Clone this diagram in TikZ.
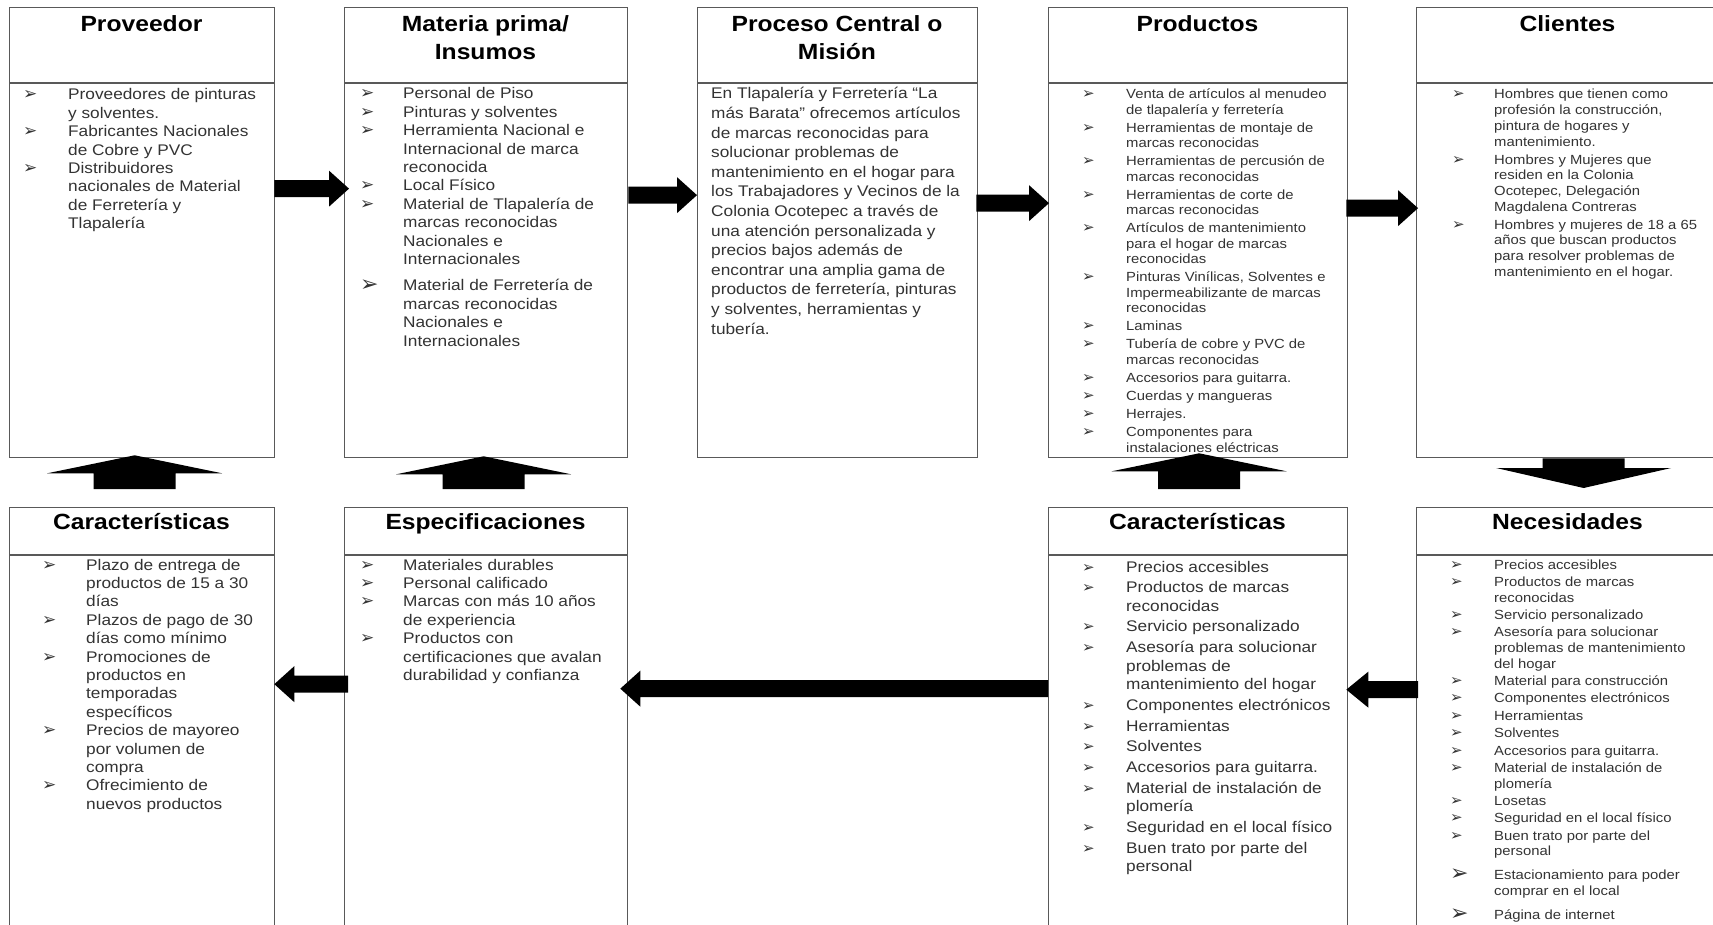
\documentclass[tikz,border=0pt]{standalone}
\usepackage{fontspec}
\usetikzlibrary{calc}
\newfontfamily\bodyfont[FakeStretch=1.12]{Liberation Sans}
\newfontfamily\bulfont{DejaVu Sans}
\newcommand\bul{\raisebox{0pt}[0pt][0pt]{\bulfont\fontsize{17}{17}\selectfont ➢}}
\newcommand\sbul{\raisebox{0pt}[0pt][0pt]{\bulfont\fontsize{15}{15}\selectfont ➢}}
\newcommand\bbul{\raisebox{-1pt}[0pt][0pt]{\bulfont\fontsize{22}{22}\selectfont ➢}}
% block arrow: start, end, half body, half head, head length
\newcommand\barrow[5]{%
  \coordinate (hb) at ($(#2)!#5!(#1)$);
  \fill[black] ($(#1)!#3!90:(#2)$) -- ($(hb)!#3!90:(#2)$) -- ($(hb)!#4!90:(#2)$) -- (#2)
    -- ($(hb)!#4!-90:(#2)$) -- ($(hb)!#3!-90:(#2)$) -- ($(#1)!#3!-90:(#2)$) -- cycle;}
\begin{document}
\begin{tikzpicture}[x=1pt,y=-1pt,
  box/.style={draw=black!65, line width=1.3pt, inner sep=0pt, anchor=north west},
  divider/.style={draw=black!65, line width=1.3pt},
  title/.style={anchor=base, inner sep=0pt, text=black,
    font={\bodyfont\bfseries\fontsize{22}{28}\selectfont}},
  txt/.style={anchor=base west, inner sep=0pt, text=black!80},
  lg/.style={font={\bodyfont\fontsize{15.4}{18.4}\selectfont}},
  sm/.style={font={\bodyfont\fontsize{13.25}{#1}\selectfont}}]
\useasboundingbox (0,0) rectangle (1713,925);
\clip (0,0) rectangle (1713,925);
\fill[white] (0,0) rectangle (1713,925);

% ---------- boxes ----------
\node[box, minimum width=265pt, minimum height=450pt] (prov) at (9,7) {};
\node[box, minimum width=283pt, minimum height=450pt] (mat) at (344,7) {};
\node[box, minimum width=280pt, minimum height=450pt] (proc) at (697,7) {};
\node[box, minimum width=299pt, minimum height=450pt] (prod) at (1048,7) {};
\node[box, minimum width=303pt, minimum height=450pt] (cli) at (1416,7) {};
\node[box, minimum width=265pt, minimum height=433pt] (car1) at (9,507) {};
\node[box, minimum width=283pt, minimum height=433pt] (espec) at (344,507) {};
\node[box, minimum width=299pt, minimum height=433pt] (car2) at (1048,507) {};
\node[box, minimum width=303pt, minimum height=433pt] (nec) at (1416,507) {};

\foreach \b in {prov,mat,proc,prod,cli}
  \draw[divider] ([yshift=-76pt]\b.north west) -- ([yshift=-76pt]\b.north east);
\foreach \b in {car1,espec,car2,nec}
  \draw[divider] ([yshift=-48pt]\b.north west) -- ([yshift=-48pt]\b.north east);

% ---------- titles ----------
\node[title] (tprov) at (141.5,32) {Proveedor};
\node[title] (tmat) at (485.5,32) {\begin{tabular}[t]{@{}c@{}}Materia prima/\\Insumos\end{tabular}};
\node[title] (tproc) at (837,32) {\begin{tabular}[t]{@{}c@{}}Proceso Central o\\Misión\end{tabular}};
\node[title] (tprod) at (1197.5,32) {Productos};
\node[title] (tcli) at (1567.5,32) {Clientes};
\node[title] (tcar1) at (141.5,529) {Características};
\node[title] (tespec) at (485.5,529) {Especificaciones};
\node[title] (tcar2) at (1197.5,529) {Características};
\node[title] (tnec) at (1567.5,529) {Necesidades};

% ---------- texts ----------
\node[txt, lg] (lprov) at (23,100) {\begin{tabular}[t]{@{}p{45pt}@{}l@{}}
\bul & Proveedores de pinturas\\
 & y solventes.\\
\bul & Fabricantes Nacionales\\
 & de Cobre y PVC\\
\bul & Distribuidores\\
 & nacionales de Material\\
 & de Ferretería y\\
 & Tlapalería
\end{tabular}};

\node[txt, lg] (lmat) at (360,99) {\begin{tabular}[t]{@{}p{43pt}@{}l@{}}
\bul & Personal de Piso\\
\bul & Pinturas y solventes\\
\bul & Herramienta Nacional e\\
 & Internacional de marca\\
 & reconocida\\
\bul & Local Físico\\
\bul & Material de Tlapalería de\\
 & marcas reconocidas\\
 & Nacionales e\\
 & Internacionales\\[8pt]
\bbul & Material de Ferretería de\\
 & marcas reconocidas\\
 & Nacionales e\\
 & Internacionales
\end{tabular}};

\node[txt, font={\bodyfont\fontsize{15.4}{19.6}\selectfont}] (lproc) at (711,99) {\begin{tabular}[t]{@{}l@{}}
En Tlapalería y Ferretería “La\\
más Barata” ofrecemos artículos\\
de marcas reconocidas para\\
solucionar problemas de\\
mantenimiento en el hogar para\\
los Trabajadores y Vecinos de la\\
Colonia Ocotepec a través de\\
una atención personalizada y\\
precios bajos además de\\
encontrar una amplia gama de\\
productos de ferretería, pinturas\\
y solventes, herramientas y\\
tubería.
\end{tabular}};

\node[txt, sm=15.3] (lprod) at (1082,99) {\begin{tabular}[t]{@{}p{44pt}@{}l@{}}
\sbul & Venta de artículos al menudeo\\
 & de tlapalería y ferretería\\[2.9pt]
\sbul & Herramientas de montaje de\\
 & marcas reconocidas\\[2.9pt]
\sbul & Herramientas de percusión de\\
 & marcas reconocidas\\[2.9pt]
\sbul & Herramientas de corte de\\
 & marcas reconocidas\\[2.9pt]
\sbul & Artículos de mantenimiento\\
 & para el hogar de marcas\\
 & reconocidas\\[2.9pt]
\sbul & Pinturas Vinílicas, Solventes e\\
 & Impermeabilizante de marcas\\
 & reconocidas\\[2.9pt]
\sbul & Laminas\\[2.9pt]
\sbul & Tubería de cobre y PVC de\\
 & marcas reconocidas\\[2.9pt]
\sbul & Accesorios para guitarra.\\[2.9pt]
\sbul & Cuerdas y mangueras\\[2.9pt]
\sbul & Herrajes.\\[2.9pt]
\sbul & Componentes para\\
 & instalaciones eléctricas
\end{tabular}};

\node[txt, sm=15.7] (lcli) at (1452,99) {\begin{tabular}[t]{@{}p{42pt}@{}l@{}}
\sbul & Hombres que tienen como\\
 & profesión la construcción,\\
 & pintura de hogares y\\
 & mantenimiento.\\[2.3pt]
\sbul & Hombres y Mujeres que\\
 & residen en la Colonia\\
 & Ocotepec, Delegación\\
 & Magdalena Contreras\\[2.3pt]
\sbul & Hombres y mujeres de 18 a 65\\
 & años que buscan productos\\
 & para resolver problemas de\\
 & mantenimiento en el hogar.
\end{tabular}};

\node[txt, lg] (lcar1) at (42,570) {\begin{tabular}[t]{@{}p{44pt}@{}l@{}}
\bul & Plazo de entrega de\\
 & productos de 15 a 30\\
 & días\\
\bul & Plazos de pago de 30\\
 & días como mínimo\\
\bul & Promociones de\\
 & productos en\\
 & temporadas\\
 & específicos\\
\bul & Precios de mayoreo\\
 & por volumen de\\
 & compra\\
\bul & Ofrecimiento de\\
 & nuevos productos
\end{tabular}};

\node[txt, lg] (lespec) at (360,570) {\begin{tabular}[t]{@{}p{43pt}@{}l@{}}
\bul & Materiales durables\\
\bul & Personal calificado\\
\bul & Marcas con más 10 años\\
 & de experiencia\\
\bul & Productos con\\
 & certificaciones que avalan\\
 & durabilidad y confianza
\end{tabular}};

\node[txt, font={\bodyfont\fontsize{15.4}{18.5}\selectfont}] (lcar2) at (1082,572) {\begin{tabular}[t]{@{}p{44pt}@{}l@{}}
\sbul & Precios accesibles\\[2.2pt]
\sbul & Productos de marcas\\
 & reconocidas\\[2.2pt]
\sbul & Servicio personalizado\\[2.2pt]
\sbul & Asesoría para solucionar\\
 & problemas de\\
 & mantenimiento del hogar\\[2.2pt]
\sbul & Componentes electrónicos\\[2.2pt]
\sbul & Herramientas\\[2.2pt]
\sbul & Solventes\\[2.2pt]
\sbul & Accesorios para guitarra.\\[2.2pt]
\sbul & Material de instalación de\\
 & plomería\\[2.2pt]
\sbul & Seguridad en el local físico\\[2.2pt]
\sbul & Buen trato por parte del\\
 & personal
\end{tabular}};

\node[txt, sm=15.6] (lnec) at (1450,569) {\begin{tabular}[t]{@{}p{44pt}@{}l@{}}
\sbul & Precios accesibles\\[1.8pt]
\sbul & Productos de marcas\\
 & reconocidas\\[1.8pt]
\sbul & Servicio personalizado\\[1.8pt]
\sbul & Asesoría para solucionar\\
 & problemas de mantenimiento\\
 & del hogar\\[1.8pt]
\sbul & Material para construcción\\[1.8pt]
\sbul & Componentes electrónicos\\[1.8pt]
\sbul & Herramientas\\[1.8pt]
\sbul & Solventes\\[1.8pt]
\sbul & Accesorios para guitarra.\\[1.8pt]
\sbul & Material de instalación de\\
 & plomería\\[1.8pt]
\sbul & Losetas\\[1.8pt]
\sbul & Seguridad en el local físico\\[1.8pt]
\sbul & Buen trato por parte del\\
 & personal\\[8.5pt]
\bbul & Estacionamiento para poder\\
 & comprar en el local\\[8.5pt]
\bbul & Página de internet
\end{tabular}};

% ---------- arrows ----------
\coordinate (a1s) at ([xshift=-1pt,yshift=44pt]prov.east);
\coordinate (a1e) at ([xshift=5pt,yshift=44pt]mat.west);
\coordinate (a2s) at ([yshift=37.5pt]mat.east);
\coordinate (a2e) at ([yshift=37.5pt]proc.west);
\coordinate (a3s) at ([xshift=-2pt,yshift=29.5pt]proc.east);
\coordinate (a3e) at ([xshift=1pt,yshift=29.5pt]prod.west);
\coordinate (a4s) at ([xshift=-2pt,yshift=24.5pt]prod.east);
\coordinate (a4e) at ([xshift=2pt,yshift=24.5pt]cli.west);
\barrow{a1s}{a1e}{8.5pt}{18pt}{20pt}
\barrow{a2s}{a2e}{8.5pt}{18pt}{20pt}
\barrow{a3s}{a3e}{8.5pt}{18pt}{20pt}
\barrow{a4s}{a4e}{8.5pt}{18pt}{20pt}

\coordinate (bAs) at ([xshift=2pt,yshift=34.5pt]nec.west);
\coordinate (bAe) at ([xshift=-2pt,yshift=34.5pt]car2.east);
\coordinate (bBs) at ([yshift=35.5pt]car2.west);
\coordinate (bBe) at ([xshift=-8pt,yshift=35.5pt]espec.east);
\coordinate (bCs) at ([xshift=4pt,yshift=40pt]espec.west);
\coordinate (bCe) at ([xshift=-1pt,yshift=40pt]car1.east);
\barrow{bAs}{bAe}{8.5pt}{18pt}{22pt}
\barrow{bBs}{bBe}{8.5pt}{18pt}{20pt}
\barrow{bCs}{bCe}{8.5pt}{18pt}{20pt}

\coordinate (u1s) at ([xshift=-7.5pt,yshift=18pt]car1.north);
\coordinate (u1e) at ([xshift=-7.5pt,yshift=3pt]prov.south);
\coordinate (u2s) at ([xshift=-2.5pt,yshift=18pt]espec.north);
\coordinate (u2e) at ([xshift=-2.5pt,yshift=2pt]mat.south);
\coordinate (u3s) at ([xshift=1pt,yshift=18pt]car2.north);
\coordinate (u3e) at ([xshift=1pt,yshift=5pt]prod.south);
\coordinate (d1s) at ([xshift=15.5pt]cli.south);
\coordinate (d1e) at ([xshift=15.5pt,yshift=19pt]nec.north);
\barrow{u1s}{u1e}{41pt}{87.5pt}{18pt}
\barrow{u2s}{u2e}{41pt}{87.5pt}{18pt}
\barrow{u3s}{u3e}{41pt}{87.5pt}{18pt}
\barrow{d1s}{d1e}{41pt}{87.5pt}{20pt}
\end{tikzpicture}
\end{document}
